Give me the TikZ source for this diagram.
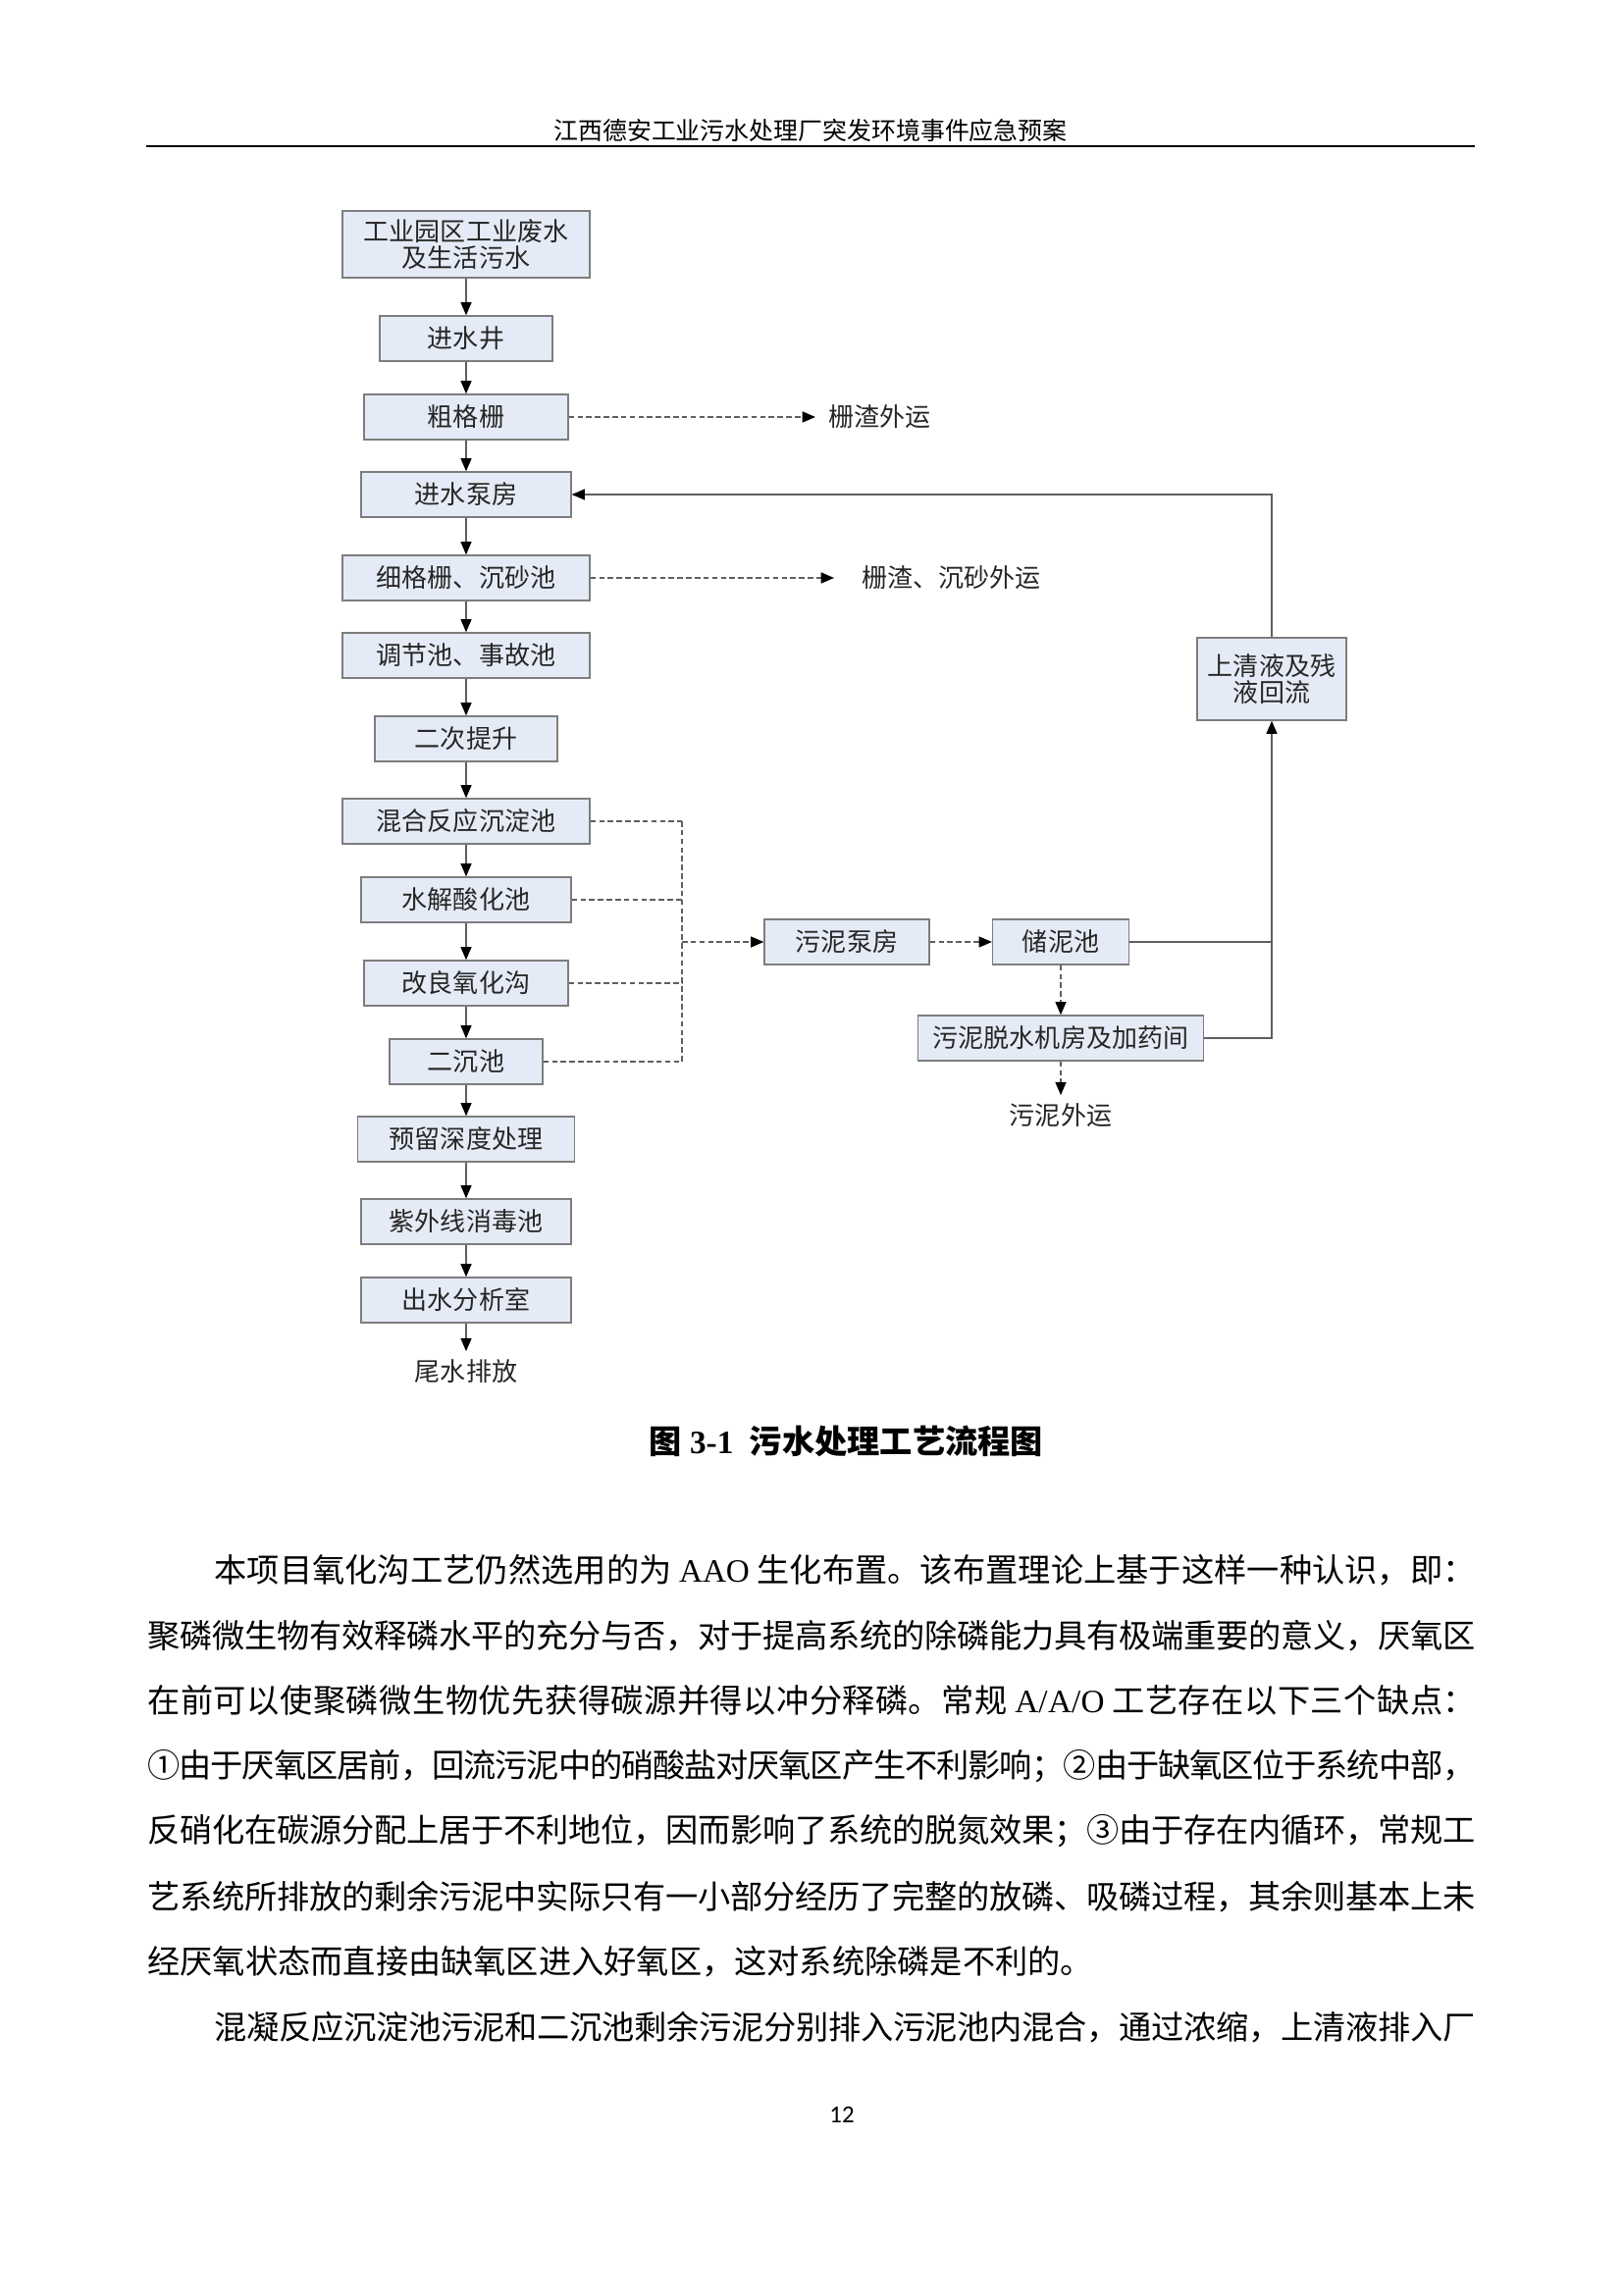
\documentclass[tikz,border=0pt]{standalone}
\usepackage{fontspec}
\setmainfont{Liberation Serif}
\newfontfamily\cjk{Noto Sans CJK SC}
\newfontfamily\pagefont{Carlito}
\usepackage{xcolor}
\usepackage{tikz}
\usetikzlibrary{arrows.meta,positioning}
% break and stretch between Chinese characters
\XeTeXlinebreaklocale "zh"
\XeTeXlinebreakskip=0pt plus 2pt minus 0.8pt
% one pixel of the page image
\newlength\pxlen
\setlength\pxlen{0.12697mm}
% one justified line, no indent
\newcommand\justline{\parindent=0pt\relax\parfillskip=0pt\relax\tolerance=9999\relax}
\definecolor{boxfill}{RGB}{229,235,246}
\definecolor{boxline}{RGB}{125,125,125}
\definecolor{linkgray}{RGB}{95,95,95}

\begin{document}
\begin{tikzpicture}[x=0.12697mm, y=-0.12697mm,
  stage/.style={draw=boxline, fill=boxfill, line width=0.5pt, inner sep=0pt,
    minimum height=46\pxlen, align=center, text=black!85,
    font=\cjk\fontsize{9.4}{10}\selectfont},
  outlabel/.style={inner sep=3pt, text=black!85, font=\cjk\fontsize{9.4}{10}\selectfont},
  link/.style={draw=linkgray, line width=0.45pt},
  flow/.style={link, -{Triangle[length=4.8pt, width=4pt, color=black]}},
  dlink/.style={link, dash pattern=on 2pt off 1.2pt},
  dflow/.style={dlink, -{Triangle[length=4.8pt, width=4pt, color=black]}},
  body/.style={anchor=west, inner sep=0pt, font=\cjk\fontsize{12}{14}\selectfont},
  fullline/.style={body, text width=1353\pxlen, align=justify,
    font=\cjk\fontsize{12}{14}\selectfont\justline},
  indline/.style={fullline, text width=1285\pxlen}
]
  % Page size
  \fill[white] (0,0) rectangle (1654,2339);
  \useasboundingbox (0,0) rectangle (1654,2339);
  % Main column x
  \pgfmathsetmacro{\cx}{475}

  % Running header
  \node[font=\cjk\fontsize{9}{11}\selectfont] (header) at (826,133) {江西德安工业污水处理厂突发环境事件应急预案};
  \draw[line width=0.8pt] (149,149) -- (1503,149);

  % Water line
  \node[stage, minimum width=252\pxlen, minimum height=68\pxlen] (src) at (\cx,249) {工业园区工业废水\\及生活污水};
  \node[stage, minimum width=176\pxlen] (inwell) at (\cx,345) {进水井};
  \node[stage, minimum width=208\pxlen] (coarse) at (\cx,425) {粗格栅};
  \node[stage, minimum width=214\pxlen] (inpump) at (\cx,504) {进水泵房};
  \node[stage, minimum width=252\pxlen] (fine) at (\cx,589) {细格栅、沉砂池};
  \node[stage, minimum width=252\pxlen] (adjust) at (\cx,668) {调节池、事故池};
  \node[stage, minimum width=186\pxlen] (lift) at (\cx,753) {二次提升};
  \node[stage, minimum width=252\pxlen] (mixsed) at (\cx,837) {混合反应沉淀池};
  \node[stage, minimum width=214\pxlen] (hydro) at (\cx,917) {水解酸化池};
  \node[stage, minimum width=208\pxlen] (oxid) at (\cx,1002) {改良氧化沟};
  \node[stage, minimum width=156\pxlen] (settle) at (\cx,1082) {二沉池};
  \node[stage, minimum width=221\pxlen] (deep) at (\cx,1161) {预留深度处理};
  \node[stage, minimum width=214\pxlen] (uv) at (\cx,1245) {紫外线消毒池};
  \node[stage, minimum width=214\pxlen] (lab) at (\cx,1325) {出水分析室};
  \node[outlabel] (tail) at (\cx,1398) {尾水排放};
  \foreach \a/\b in {src/inwell,inwell/coarse,coarse/inpump,inpump/fine,fine/adjust,adjust/lift,
    lift/mixsed,mixsed/hydro,hydro/oxid,oxid/settle,settle/deep,deep/uv,uv/lab,lab/tail}
    \draw[flow] (\a) -- (\b);

  % Screenings
  \node[outlabel, anchor=west, inner xsep=4.7pt] (screenout) at (831,425) {栅渣外运};
  \node[outlabel, anchor=west, inner xsep=10pt] (gritout) at (850,589) {栅渣、沉砂外运};
  \draw[dflow] (coarse) -- (screenout);
  \draw[dflow] (fine) -- (gritout);

  % Sludge line
  \node[stage, minimum width=168\pxlen] (spump) at (863,960) {污泥泵房};
  \node[stage, minimum width=139\pxlen] (stank) at (1081,960) {储泥池};
  \node[stage, minimum width=291\pxlen] (dewater) at (1081,1058) {污泥脱水机房及加药间};
  \node[outlabel] (sout) at (1081,1137) {污泥外运};
  \node[stage, minimum width=152\pxlen, minimum height=84\pxlen] (reflux) at (1296,692) {上清液及残\\液回流};
  \coordinate (bus) at (695,960);
  \foreach \n in {mixsed,hydro,oxid,settle}
    \draw[dlink] (\n.east) -- (\n.east -| bus);
  \draw[dlink] (mixsed.east -| bus) -- (settle.east -| bus);
  \draw[dflow] (bus) -- (spump);
  \draw[dflow] (spump) -- (stank);
  \draw[dflow] (stank) -- (dewater);
  \draw[dflow] (dewater) -- (sout);

  % Return flow
  \draw[link] (stank.east) -- (stank.east -| reflux.south);
  \draw[flow] (dewater.east) -| (reflux.south);
  \draw[flow] (reflux.north) |- (inpump.east);

  % Caption
  \node[anchor=west, inner sep=0pt, font=\fontsize{12}{14}\selectfont\bfseries] (caption) at (661,1469)
    {{\cjk 图} 3-1\ \ {\cjk 污水处理工艺流程图}};

  % Body text
  \node[indline] (l1) at (218,1600) {本项目氧化沟工艺仍然选用的为 {\rmfamily AAO} 生化布置。该布置理论上基于这样一种认识，即：};
  \node[fullline] (l2) at (150,1667) {聚磷微生物有效释磷水平的充分与否，对于提高系统的除磷能力具有极端重要的意义，厌氧区};
  \node[fullline] (l3) at (150,1733) {在前可以使聚磷微生物优先获得碳源并得以冲分释磷。常规 {\rmfamily A/A/O} 工艺存在以下三个缺点：};
  \node[fullline] (l4) at (150,1800) {①由于厌氧区居前，回流污泥中的硝酸盐对厌氧区产生不利影响；②由于缺氧区位于系统中部，};
  \node[fullline] (l5) at (150,1866) {反硝化在碳源分配上居于不利地位，因而影响了系统的脱氮效果；③由于存在内循环，常规工};
  \node[fullline] (l6) at (150,1933) {艺系统所排放的剩余污泥中实际只有一小部分经历了完整的放磷、吸磷过程，其余则基本上未};
  \node[body] (l7) at (150,1999) {经厌氧状态而直接由缺氧区进入好氧区，这对系统除磷是不利的。};
  \node[indline] (l8) at (218,2066) {混凝反应沉淀池污泥和二沉池剩余污泥分别排入污泥池内混合，通过浓缩，上清液排入厂};

  % Page number
  \node[font=\pagefont\fontsize{9}{11}\selectfont] (pageno) at (858,2155) {12};
\end{tikzpicture}
\end{document}
